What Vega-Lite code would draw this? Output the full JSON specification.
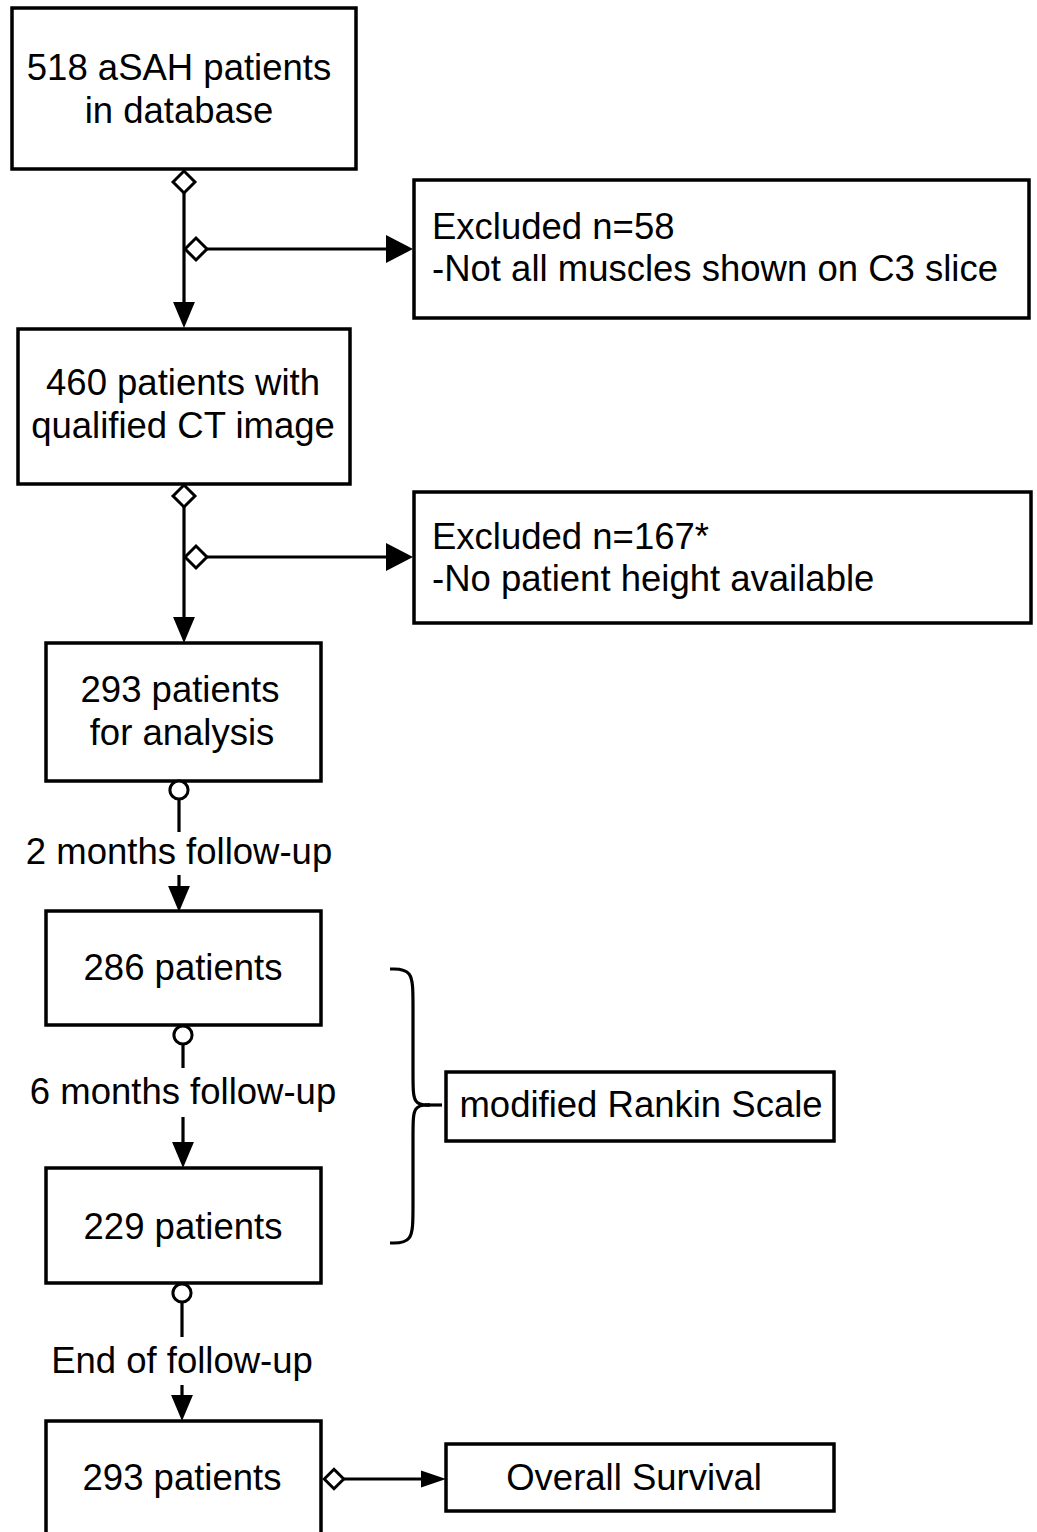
{
  "$schema": "https://vega.github.io/schema/vega-lite/v6.json",
  "width": 1037,
  "height": 1532,
  "padding": 0,
  "autosize": {"type": "fit", "contains": "padding"},
  "background": "white",
  "config": {"view": {"stroke": null}},
  "datasets": {
    "boxes": [
      {"x": 12, "x2": 356, "y": 8, "y2": 169},
      {"x": 414, "x2": 1029, "y": 180, "y2": 318},
      {"x": 18, "x2": 350, "y": 329, "y2": 484},
      {"x": 414, "x2": 1031, "y": 492, "y2": 623},
      {"x": 46, "x2": 321, "y": 643, "y2": 781},
      {"x": 46, "x2": 321, "y": 911, "y2": 1025},
      {"x": 46, "x2": 321, "y": 1168, "y2": 1283},
      {"x": 446, "x2": 834, "y": 1072, "y2": 1141},
      {"x": 446, "x2": 834, "y": 1444, "y2": 1511}
    ],
    "openbox": [
      {"x": 46, "x2": 321, "y": 1421, "y2": 1545}
    ],
    "ctext": [
      {"x": 179, "y": 80, "t": "518 aSAH patients"},
      {"x": 179, "y": 123, "t": "in database"},
      {"x": 183, "y": 395, "t": "460 patients with"},
      {"x": 183, "y": 438, "t": "qualified CT image"},
      {"x": 180, "y": 702, "t": "293 patients"},
      {"x": 182, "y": 745, "t": "for analysis"},
      {"x": 179, "y": 864, "t": "2 months follow-up"},
      {"x": 183, "y": 980, "t": "286 patients"},
      {"x": 183, "y": 1104, "t": "6 months follow-up"},
      {"x": 183, "y": 1239, "t": "229 patients"},
      {"x": 182, "y": 1373, "t": "End of follow-up"},
      {"x": 182, "y": 1490, "t": "293 patients"},
      {"x": 641, "y": 1117, "t": "modified Rankin Scale"},
      {"x": 634, "y": 1490, "t": "Overall Survival"}
    ],
    "ltext": [
      {"x": 432, "y": 239, "t": "Excluded n=58"},
      {"x": 432, "y": 281, "t": "-Not all muscles shown on C3 slice"},
      {"x": 432, "y": 549, "t": "Excluded n=167*"},
      {"x": 432, "y": 591, "t": "-No patient height available"}
    ],
    "segments": [
      {"x": 184, "x2": 184, "y": 182, "y2": 318},
      {"x": 196, "x2": 400, "y": 249, "y2": 249},
      {"x": 184, "x2": 184, "y": 496, "y2": 634},
      {"x": 196, "x2": 400, "y": 557, "y2": 557},
      {"x": 179, "x2": 179, "y": 797, "y2": 832},
      {"x": 179, "x2": 179, "y": 875, "y2": 900},
      {"x": 183, "x2": 183, "y": 1042, "y2": 1068},
      {"x": 183, "x2": 183, "y": 1117, "y2": 1158},
      {"x": 182, "x2": 182, "y": 1300, "y2": 1337},
      {"x": 182, "x2": 182, "y": 1385, "y2": 1410},
      {"x": 334, "x2": 430, "y": 1479, "y2": 1479},
      {"x": 425, "x2": 442, "y": 1105, "y2": 1105}
    ],
    "downArrows": [
      {"x": 184, "y": 328},
      {"x": 184, "y": 643},
      {"x": 179, "y": 912},
      {"x": 183, "y": 1168},
      {"x": 182, "y": 1421}
    ],
    "rightArrows": [
      {"x": 413, "y": 249},
      {"x": 413, "y": 557}
    ],
    "rightArrowsSmall": [
      {"x": 446, "y": 1479}
    ],
    "diamonds": [
      {"x": 184, "y": 182},
      {"x": 196, "y": 249},
      {"x": 184, "y": 496},
      {"x": 196, "y": 557}
    ],
    "diamondsSmall": [
      {"x": 334, "y": 1479}
    ],
    "circles": [
      {"x": 179, "y": 790},
      {"x": 183, "y": 1035},
      {"x": 182, "y": 1293}
    ],
    "brace": [
      {"part": "upper", "o": 1, "x": 390, "y": 969},
      {"part": "upper", "o": 2, "x": 413, "y": 969},
      {"part": "upper", "o": 3, "x": 413, "y": 1000},
      {"part": "upper", "o": 4, "x": 413, "y": 1080},
      {"part": "upper", "o": 5, "x": 413, "y": 1105},
      {"part": "upper", "o": 6, "x": 430, "y": 1105},
      {"part": "lower", "o": 1, "x": 430, "y": 1105},
      {"part": "lower", "o": 2, "x": 413, "y": 1105},
      {"part": "lower", "o": 3, "x": 413, "y": 1130},
      {"part": "lower", "o": 4, "x": 413, "y": 1212},
      {"part": "lower", "o": 5, "x": 413, "y": 1243},
      {"part": "lower", "o": 6, "x": 390, "y": 1243}
    ]
  },
  "layer": [
    {
      "data": {"name": "segments"},
      "mark": {"type": "rule", "color": "black", "strokeWidth": 3.2},
      "encoding": {
        "x": {"field": "x", "type": "quantitative", "scale": {"domain": [0, 1037], "nice": false, "zero": false}, "axis": null},
        "x2": {"field": "x2"},
        "y": {"field": "y", "type": "quantitative", "scale": {"domain": [0, 1532], "nice": false, "zero": false, "reverse": true}, "axis": null},
        "y2": {"field": "y2"}
      }
    },
    {
      "data": {"name": "brace"},
      "mark": {"type": "line", "color": "black", "strokeWidth": 3.2, "interpolate": "basis"},
      "encoding": {
        "x": {"field": "x", "type": "quantitative"},
        "y": {"field": "y", "type": "quantitative"},
        "detail": {"field": "part"},
        "order": {"field": "o"}
      }
    },
    {
      "data": {"name": "boxes"},
      "mark": {"type": "rect", "fill": "white", "stroke": "black", "strokeWidth": 3.5},
      "encoding": {
        "x": {"field": "x", "type": "quantitative"},
        "x2": {"field": "x2"},
        "y": {"field": "y", "type": "quantitative"},
        "y2": {"field": "y2"}
      }
    },
    {
      "data": {"name": "openbox"},
      "mark": {"type": "rect", "fill": "white", "stroke": "black", "strokeWidth": 3.5, "clip": true},
      "encoding": {
        "x": {"field": "x", "type": "quantitative"},
        "x2": {"field": "x2"},
        "y": {"field": "y", "type": "quantitative"},
        "y2": {"field": "y2"}
      }
    },
    {
      "data": {"name": "downArrows"},
      "mark": {"type": "point", "shape": "M-0.42,-1L0.42,-1L0,0Z", "size": 2704, "filled": true, "color": "black", "opacity": 1, "strokeWidth": 0},
      "encoding": {
        "x": {"field": "x", "type": "quantitative"},
        "y": {"field": "y", "type": "quantitative"}
      }
    },
    {
      "data": {"name": "rightArrows"},
      "mark": {"type": "point", "shape": "M-1,-0.52L-1,0.52L0,0Z", "size": 2916, "filled": true, "color": "black", "opacity": 1, "strokeWidth": 0},
      "encoding": {
        "x": {"field": "x", "type": "quantitative"},
        "y": {"field": "y", "type": "quantitative"}
      }
    },
    {
      "data": {"name": "rightArrowsSmall"},
      "mark": {"type": "point", "shape": "M-1,-0.34L-1,0.34L0,0Z", "size": 2500, "filled": true, "color": "black", "opacity": 1, "strokeWidth": 0},
      "encoding": {
        "x": {"field": "x", "type": "quantitative"},
        "y": {"field": "y", "type": "quantitative"}
      }
    },
    {
      "data": {"name": "diamonds"},
      "mark": {"type": "point", "shape": "diamond", "size": 480, "filled": true, "fill": "white", "stroke": "black", "strokeWidth": 3, "opacity": 1},
      "encoding": {
        "x": {"field": "x", "type": "quantitative"},
        "y": {"field": "y", "type": "quantitative"}
      }
    },
    {
      "data": {"name": "diamondsSmall"},
      "mark": {"type": "point", "shape": "diamond", "size": 380, "filled": true, "fill": "white", "stroke": "black", "strokeWidth": 3, "opacity": 1},
      "encoding": {
        "x": {"field": "x", "type": "quantitative"},
        "y": {"field": "y", "type": "quantitative"}
      }
    },
    {
      "data": {"name": "circles"},
      "mark": {"type": "point", "shape": "circle", "size": 330, "filled": true, "fill": "white", "stroke": "black", "strokeWidth": 3, "opacity": 1},
      "encoding": {
        "x": {"field": "x", "type": "quantitative"},
        "y": {"field": "y", "type": "quantitative"}
      }
    },
    {
      "data": {"name": "ctext"},
      "mark": {"type": "text", "font": "Liberation Sans", "fontSize": 36.5, "align": "center", "baseline": "alphabetic", "color": "black"},
      "encoding": {
        "x": {"field": "x", "type": "quantitative"},
        "y": {"field": "y", "type": "quantitative"},
        "text": {"field": "t"}
      }
    },
    {
      "data": {"name": "ltext"},
      "mark": {"type": "text", "font": "Liberation Sans", "fontSize": 36.5, "align": "left", "baseline": "alphabetic", "color": "black"},
      "encoding": {
        "x": {"field": "x", "type": "quantitative"},
        "y": {"field": "y", "type": "quantitative"},
        "text": {"field": "t"}
      }
    }
  ]
}
